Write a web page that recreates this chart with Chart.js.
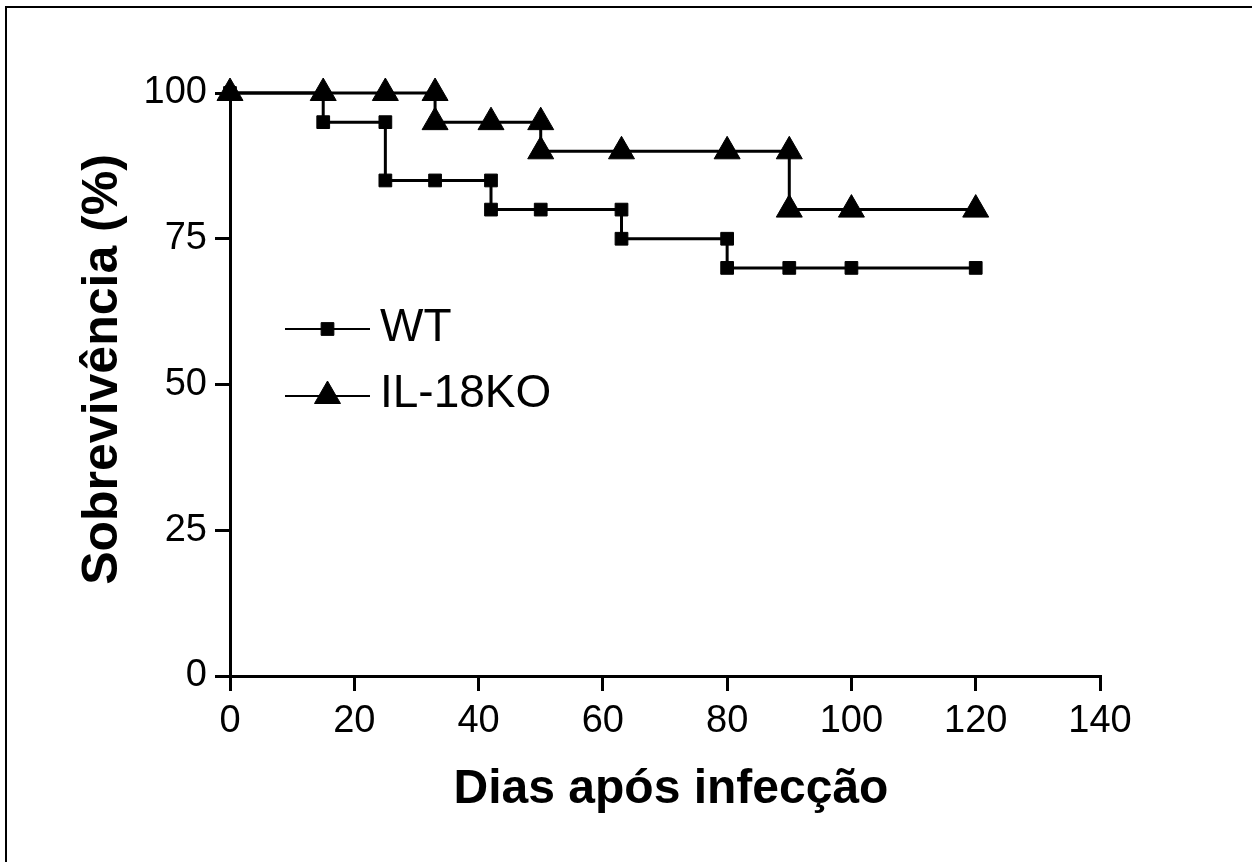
<!DOCTYPE html>
<html>
<head>
<meta charset="utf-8">
<script src="https://cdn.jsdelivr.net/npm/chart.js@4/dist/chart.umd.min.js"></script>
<style>
  html, body { margin: 0; padding: 0; background: #fff; }
  canvas { display: block; }
</style>
</head>
<body>
<canvas id="c" width="1252" height="862"></canvas>
<script>
// ---- Data ----
const seriesNames = ['WT', 'IL-18KO'];
const wtDays      = [0, 15, 25, 25, 33, 42, 42, 50, 63, 63, 80, 80, 90, 100, 120];
const wtSurvival  = [100, 95, 95, 85, 85, 85, 80, 80, 80, 75, 75, 70, 70, 70, 70];
const koDays      = [0, 15, 25, 33, 33, 42, 50, 50, 63, 80, 90, 90, 100, 120];
const koSurvival  = [100, 100, 100, 100, 95, 95, 95, 90, 90, 90, 90, 80, 80, 80];
const xTickValues = [0, 20, 40, 60, 80, 100, 120, 140];
const yTickValues = [0, 25, 50, 75, 100];
const xTitle = 'Dias após infecção';
const yTitle = 'Sobrevivência (%)';

const toPoints = (xs, ys) => xs.map((x, i) => ({ x: x, y: ys[i] }));

const FONT = "'Liberation Sans', Arial, Helvetica, sans-serif";

const framePlugin = {
  id: 'frame',
  beforeDraw(chart) {
    const ctx = chart.ctx;
    ctx.save();
    ctx.fillStyle = '#fff';
    ctx.fillRect(0, 0, chart.width, chart.height);
    ctx.strokeStyle = '#000';
    ctx.lineWidth = 2;
    ctx.beginPath();
    ctx.moveTo(6, chart.height);
    ctx.lineTo(6, 7);
    ctx.lineTo(chart.width, 7);
    ctx.stroke();
    ctx.restore();
  }
};

// Axis titles, placed relative to the chart area
const axisTitlePlugin = {
  id: 'axisTitles',
  afterDraw(chart) {
    const ctx = chart.ctx;
    const ca = chart.chartArea;
    ctx.save();
    ctx.fillStyle = '#000';
    ctx.textAlign = 'center';
    ctx.textBaseline = 'middle';
    ctx.font = 'bold 48px ' + FONT;
    ctx.fillText(xTitle, (ca.left + ca.right) / 2 + 6, ca.bottom + 114);
    ctx.translate(ca.left - 127, (ca.top + ca.bottom) / 2 - 15);
    ctx.rotate(-Math.PI / 2);
    ctx.font = 'bold 50px ' + FONT;
    ctx.fillText(yTitle, 0, 0);
    ctx.restore();
  }
};

const legendPlugin = {
  id: 'insideLegend',
  afterDraw(chart) {
    const ctx = chart.ctx;
    const rows = [{ line: 329, text: 328 }, { line: 396, text: 394 }];
    const x0 = 285, x1 = 370, tx = 380;
    chart.data.datasets.forEach((ds, i) => {
      const r = rows[i];
      ctx.save();
      ctx.strokeStyle = '#000';
      ctx.lineWidth = 2;
      ctx.beginPath();
      ctx.moveTo(x0, r.line);
      ctx.lineTo(x1, r.line);
      ctx.stroke();
      ctx.fillStyle = '#000';
      ctx.strokeStyle = '#000';
      ctx.lineWidth = 1;
      Chart.helpers.drawPoint(ctx, {
        pointStyle: ds.pointStyle, rotation: 0,
        radius: ds.pointRadius, borderWidth: 1
      }, (x0 + x1) / 2, r.line);
      ctx.font = '46px ' + FONT;
      ctx.textBaseline = 'middle';
      ctx.textAlign = 'left';
      ctx.fillText(ds.label, tx, r.text);
      ctx.restore();
    });
  }
};

new Chart(document.getElementById('c'), {
  type: 'scatter',
  data: {
    datasets: [
      {
        label: seriesNames[0],
        data: toPoints(wtDays, wtSurvival),
        showLine: true, stepped: true, clip: false,
        borderColor: '#000', backgroundColor: '#000', borderWidth: 3,
        pointStyle: 'rect', pointRadius: 9, pointHoverRadius: 9,
        pointBorderWidth: 1,
        order: 1
      },
      {
        label: seriesNames[1],
        data: toPoints(koDays, koSurvival),
        showLine: true, stepped: true, clip: false,
        borderColor: '#000', backgroundColor: '#000', borderWidth: 3,
        pointStyle: 'triangle', pointRadius: 15, pointHoverRadius: 15,
        pointBorderWidth: 1,
        order: 0
      }
    ]
  },
  options: {
    responsive: false,
    animation: false,
    events: [],
    layout: { padding: { left: 40, top: 93, right: 152, bottom: 0 } },
    plugins: { legend: { display: false }, tooltip: { enabled: false } },
    scales: {
      x: {
        type: 'linear', min: 0, max: 140,
        afterBuildTicks: s => { s.ticks = xTickValues.map(v => ({ value: v })); },
        afterFit: s => { s.height = 186; },
        border: { color: '#000', width: 3 },
        grid: { drawOnChartArea: false, drawTicks: true, tickLength: 15, color: '#000', lineWidth: 3 },
        ticks: { color: '#000', font: { family: FONT, size: 38 }, padding: 8, maxRotation: 0, autoSkip: false },
        title: { display: false, text: xTitle }
      },
      y: {
        type: 'linear', min: 0, max: 100,
        afterBuildTicks: s => { s.ticks = yTickValues.map(v => ({ value: v })); },
        afterFit: s => { s.width = 190; },
        border: { color: '#000', width: 3 },
        grid: { drawOnChartArea: false, drawTicks: true, tickLength: 15, color: '#000', lineWidth: 3 },
        ticks: { color: '#000', font: { family: FONT, size: 38 }, padding: 8, autoSkip: false },
        title: { display: false, text: yTitle }
      }
    }
  },
  plugins: [framePlugin, axisTitlePlugin, legendPlugin]
});
</script>
</body>
</html>
